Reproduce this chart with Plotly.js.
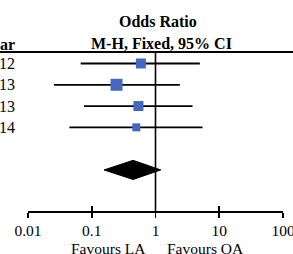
<!DOCTYPE html>
<html>
<head>
<meta charset="utf-8">
<script src="https://cdn.plot.ly/plotly-3.0.1.min.js"></script>
<style>html,body{margin:0;padding:0;background:#fff;}#chart{width:293px;height:254px;}</style>
</head>
<body>
<div id="chart"></div>
<script>
// Study rows (visible part of the year column)
const yearLabels = ["12", "13", "13", "14"];
const oddsRatio = [0.59, 0.245, 0.54, 0.50];
const ciLower = [0.067, 0.0255, 0.0756, 0.0446];
const ciUpper = [4.96, 2.41, 3.81, 5.47];
const weightSize = [10, 12, 10, 8];
// Pooled estimate (diamond)
const pooledOR = 0.445;
const pooledLower = 0.156;
const pooledUpper = 1.21;
// Axis ticks
const tickValues = [0.01, 0.1, 1, 10, 100];
const tickLabels = ["0.01", "0.1", "1", "10", "100"];

const rows = yearLabels.map((_, i) => i);
const pooledRow = 5;
const yTop = -0.54, yBottom = 6.93;
const font = "Times New Roman";

const traces = [
  {
    x: [1, 1], y: [yTop, yBottom], mode: "lines",
    line: {color: "#000", width: 1.6}, hoverinfo: "skip", xaxis: "x", yaxis: "y"
  },
  {
    x: oddsRatio, y: rows, mode: "markers", type: "scatter",
    marker: {symbol: "square", size: weightSize, color: "#4567BF", opacity: 1, line: {width: 0}},
    error_x: {
      type: "data", symmetric: false,
      array: oddsRatio.map((v, i) => ciUpper[i] - v),
      arrayminus: oddsRatio.map((v, i) => v - ciLower[i]),
      color: "#000", thickness: 1.8, width: 0
    },
    xaxis: "x", yaxis: "y"
  },
  {
    x: [pooledLower, pooledOR, pooledUpper, pooledOR, pooledLower],
    y: [pooledRow, pooledRow - 0.45, pooledRow, pooledRow + 0.45, pooledRow],
    mode: "lines", fill: "toself", fillcolor: "#000",
    line: {color: "#000", width: 1}, xaxis: "x", yaxis: "y"
  },
  {
    x: [1], y: [0], mode: "markers", marker: {opacity: 0}, xaxis: "x2", yaxis: "y", hoverinfo: "skip"
  }
];

const W = 255; // plot width in px
const H = 159;
const px = (p) => (p - 28) / W;
const py = (p) => (211 - p) / H;

const annotations = yearLabels.map((t, i) => ({
  text: t, x: px(17), xref: "paper", xanchor: "right", y: i, yref: "y", yanchor: "middle",
  showarrow: false, font: {family: font, size: 16, color: "#000"}
}));
annotations.push(
  {text: "<b>ear</b>", x: px(17), xref: "paper", xanchor: "right", y: py(44), yref: "paper", yanchor: "middle",
   showarrow: false, font: {family: font, size: 16, color: "#000"}},
  {text: "<b>Odds Ratio</b>", x: px(158), xref: "paper", xanchor: "center", y: py(21), yref: "paper", yanchor: "middle",
   showarrow: false, font: {family: font, size: 16, color: "#000"}},
  {text: "<b>M-H, Fixed, 95% CI</b>", x: px(161), xref: "paper", xanchor: "center", y: py(43), yref: "paper", yanchor: "middle",
   showarrow: false, font: {family: font, size: 16, color: "#000"}},
  {text: "Favours LA", x: px(148), xref: "paper", xanchor: "right", y: py(248), yref: "paper", yanchor: "middle",
   showarrow: false, font: {family: font, size: 15.5, color: "#000"}},
  {text: "Favours OA", x: px(165), xref: "paper", xanchor: "left", y: py(248), yref: "paper", yanchor: "middle",
   showarrow: false, font: {family: font, size: 15.5, color: "#000"}}
);

const layout = {
  width: 293, height: 254,
  margin: {l: 28, r: 10, t: 52, b: 43, pad: 0},
  paper_bgcolor: "#fff", plot_bgcolor: "#fff",
  showlegend: false,
  font: {family: font, color: "#000"},
  xaxis: {
    type: "log", range: [-2, 2], tickvals: tickValues, ticktext: tickLabels,
    ticks: "outside", ticklen: 5, tickwidth: 1.6, tickcolor: "#000",
    showline: true, linecolor: "#000", linewidth: 1.8, showgrid: false, zeroline: false,
    ticklabeloverflow: "allow",
    tickfont: {family: font, size: 15.5, color: "#000"}, fixedrange: true
  },
  xaxis2: {
    type: "log", range: [-2, 2], overlaying: "x", anchor: "y", side: "bottom", tickvals: tickValues,
    ticks: "inside", ticklen: 5, tickwidth: 1.6, tickcolor: "#000",
    showticklabels: false, showline: false, showgrid: false, zeroline: false
  },
  yaxis: {
    range: [yBottom, yTop], showline: false, showgrid: false, zeroline: false,
    showticklabels: false, ticks: "", fixedrange: true
  },
  shapes: [
    {type: "line", xref: "paper", yref: "paper", x0: -0.2, x1: 1.2, y0: 1, y1: 1,
     line: {color: "#000", width: 2}}
  ],
  annotations: annotations
};

Plotly.newPlot("chart", traces, layout, {staticPlot: true, displayModeBar: false});
</script>
</body>
</html>
